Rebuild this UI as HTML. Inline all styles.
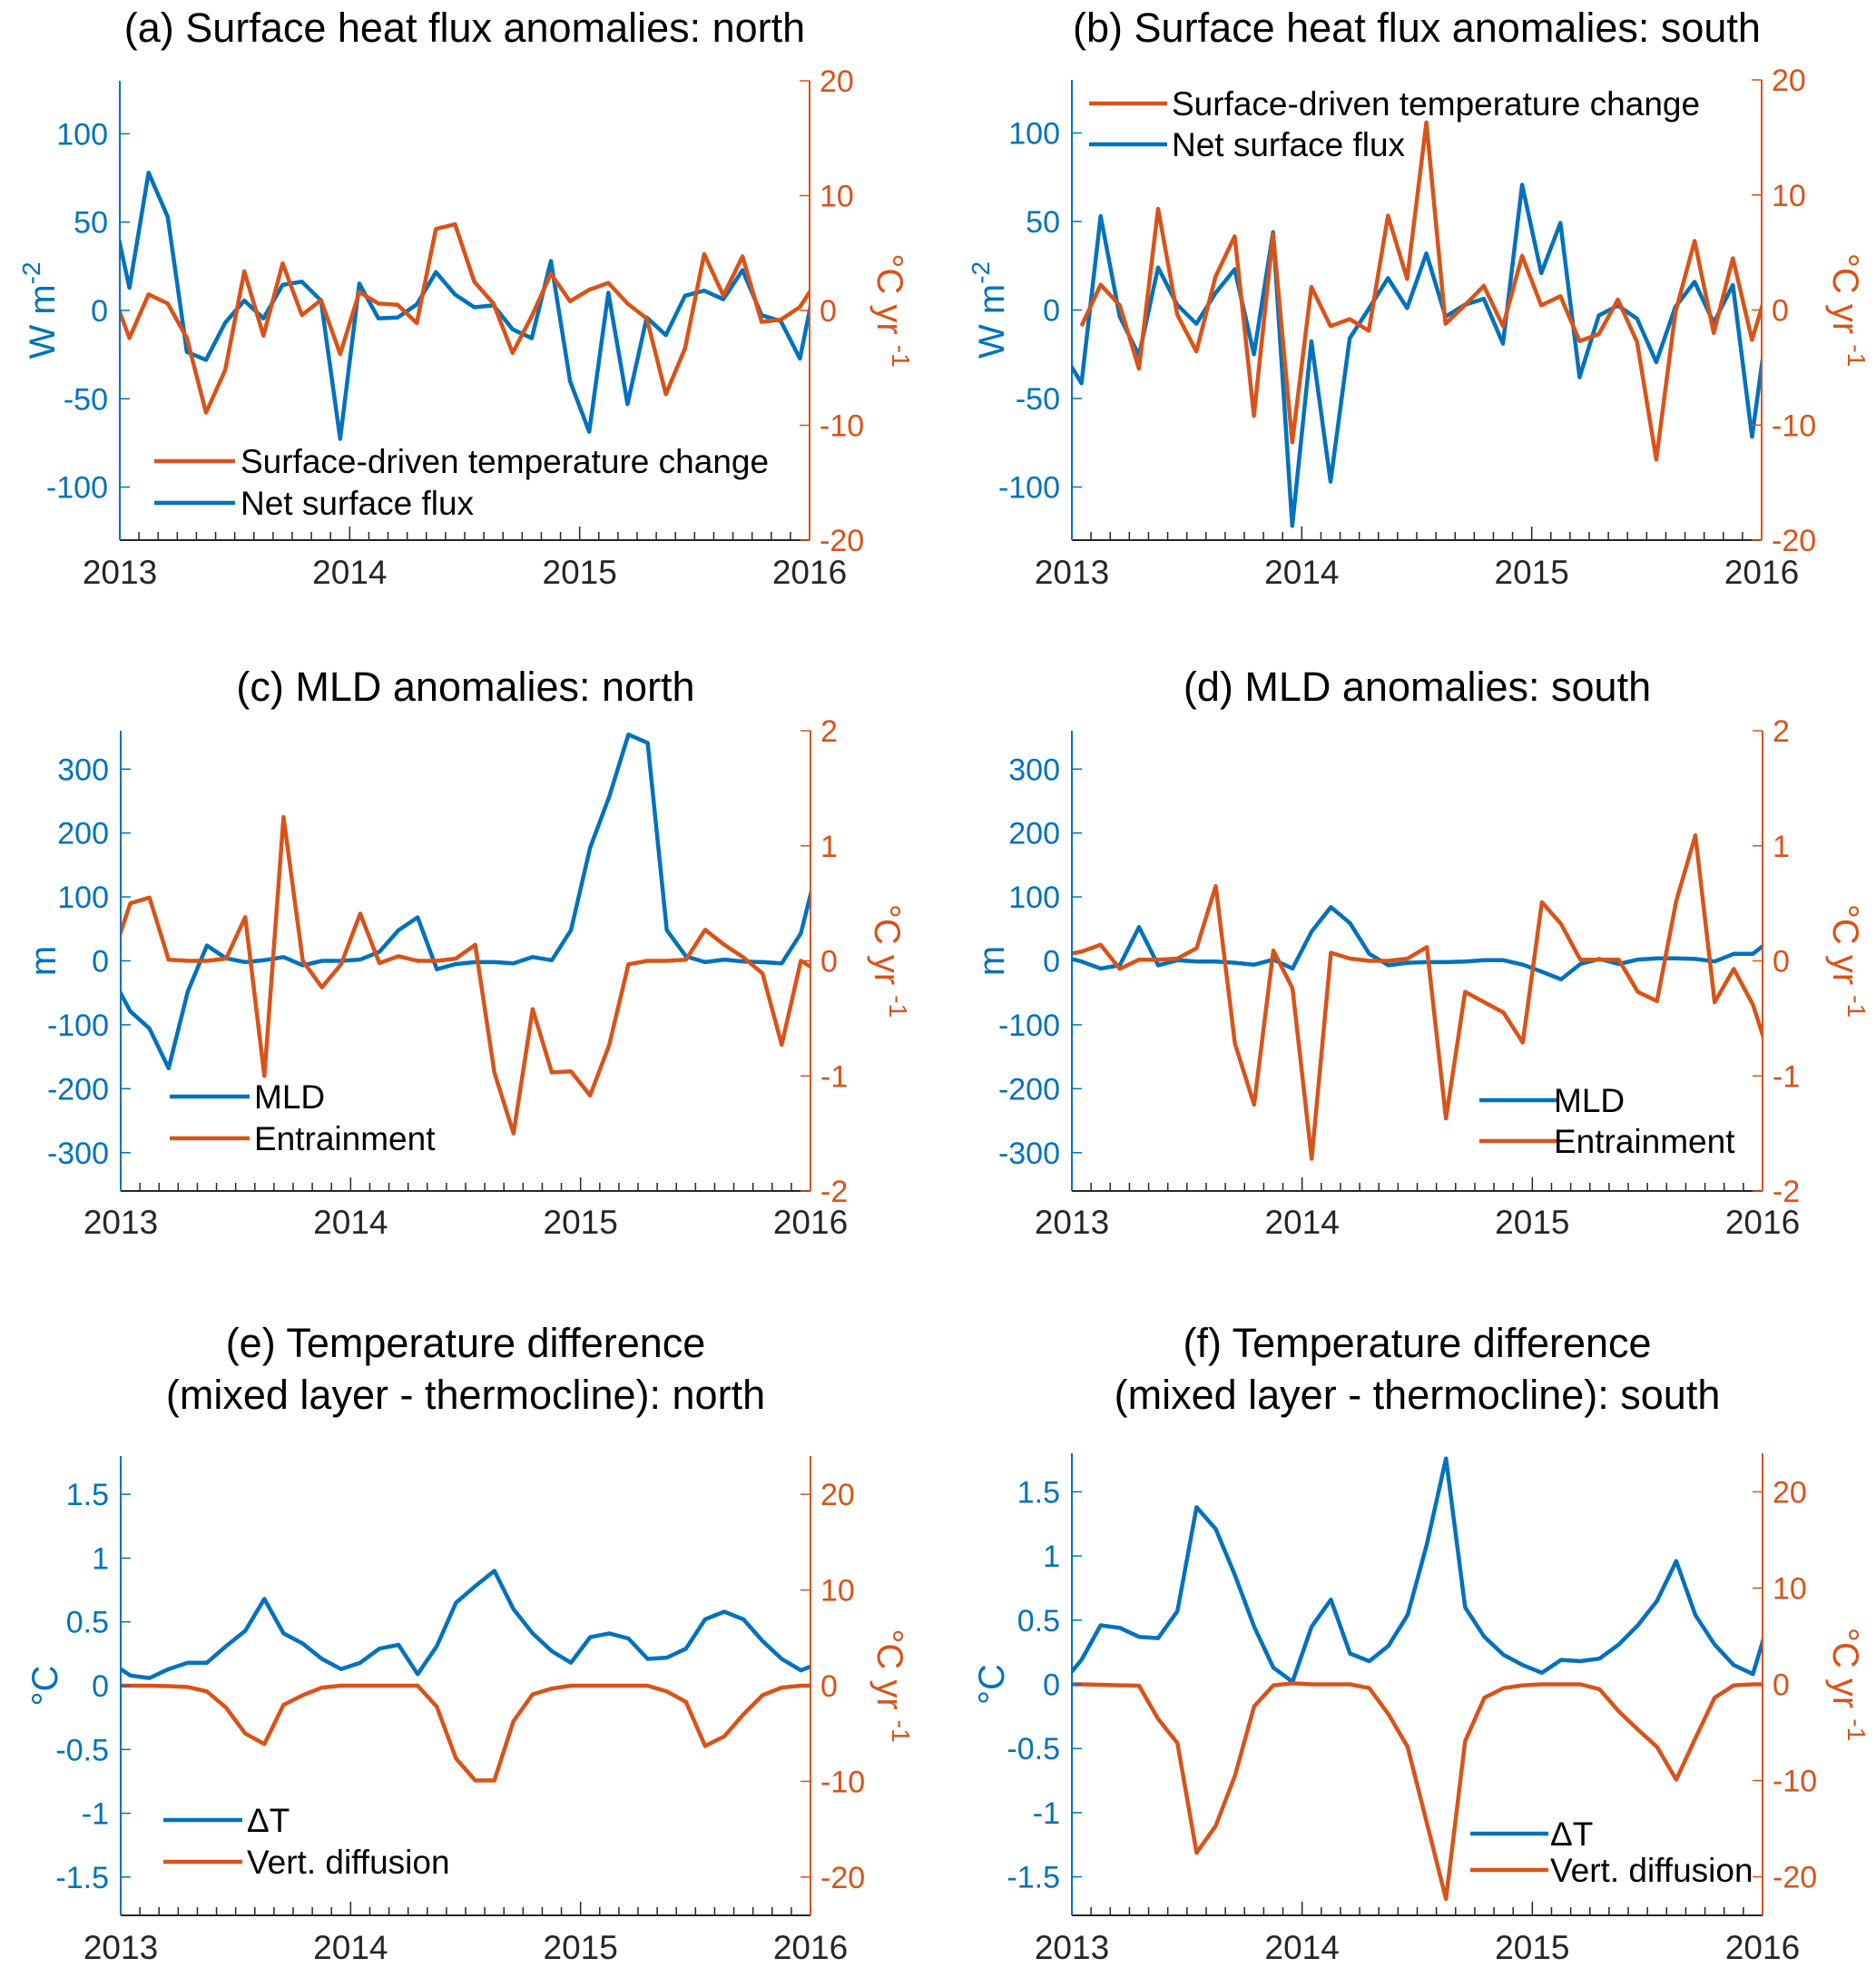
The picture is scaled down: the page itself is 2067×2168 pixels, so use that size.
<!DOCTYPE html>
<html><head><meta charset="utf-8">
<style>
html,body{margin:0;padding:0;background:#fff;}
svg{display:block;font-family:"Liberation Sans",Arial,sans-serif;}
</style></head>
<body>
<svg id="fig" width="2067" height="2168" viewBox="0 0 2067 2168" xmlns="http://www.w3.org/2000/svg"></svg>
<script>
// Month indices: -1 = Dec 2012 ... 36 = Jan 2016 (mid-month points)
const monthIdx = [-1,0,1,2,3,4,5,6,7,8,9,10,11,12,13,14,15,16,17,18,19,20,21,22,23,24,25,26,27,28,29,30,31,32,33,34,35,36];
const yearTicks = [2013,2014,2015,2016];

const aBlue   = [63,12.8,78,53,-23.5,-28,-7,5.6,-4.5,14.5,16.3,5.6,-72.7,15.2,-4.5,-4,3.4,21.7,9,1.8,2.9,-10.7,-15.7,28,-40,-68.7,10,-53,-4,-14,8.3,11.2,6.3,22.8,-2.7,-6,-27.3,27];
const aOrange = [2.1,-2.4,1.4,0.6,-2.4,-8.9,-5.2,3.4,-2.2,4.1,-0.4,0.9,-3.8,1.6,0.6,0.5,-1.1,7.1,7.5,2.5,0.6,-3.7,-0.5,3.2,0.8,1.8,2.4,0.6,-0.7,-7.3,-3.3,4.9,1.3,4.7,-1,-0.8,0.3,2.9];
const bBlue   = [-23.4,-41.4,53,-3.8,-25.7,24,2.9,-7.8,9.6,23,-25,44,-122,-17.7,-97,-16,0.7,18,1.1,32,-3.8,2.9,6.3,-19,70.7,20.8,49.2,-38,-3.1,2.5,-4.9,-29.5,1.8,15.9,-7.2,14.1,-71.6,8];
const bOrange = [null,-1.4,2.2,0.4,-5.1,8.8,-0.4,-3.6,2.9,6.4,-9.2,6.6,-11.5,2,-1.4,-0.8,-1.8,8.2,2.7,16.3,-1.2,0.4,2.1,-1.4,4.7,0.4,1.2,-2.7,-2.1,0.9,-2.8,-13,-0.2,6,-2,4.5,-2.6,3];
const cBlue   = [-23,-79,-106,-168,-48,24,4,-2,1,6,-7,0,0,2,14,48,68,-13,-5,-2,-2,-4,6,1,48,177,257,354,341,48,7,-2,2,-1,-2,-4,43,163];
const cOrange = [0,0.5,0.55,0.01,0,0,0.02,0.38,-1.0,1.25,0,-0.23,-0.03,0.41,-0.02,0.04,0,0,0.02,0.14,-0.97,-1.5,-0.42,-0.97,-0.96,-1.17,-0.73,-0.03,0,0,0.01,0.27,0.14,0.03,-0.11,-0.73,0,-0.1];
const dBlue   = [7,-1,-12,-7,53,-7,1,-1,-1,-3,-6,2,-12,46,84,59,11,-7,-3,-2,-2,-1,1,1,-6,-17,-29,-5,3,-5,2,4,4,3,-1,11,11,35];
const dOrange = [0.05,0.08,0.14,-0.07,0.01,0.01,0.02,0.11,0.65,-0.72,-1.25,0.09,-0.24,-1.72,0.07,0.02,0,0,0.02,0.12,-1.37,-0.27,-0.36,-0.45,-0.71,0.51,0.32,0.01,0.01,0.01,-0.27,-0.35,0.52,1.09,-0.36,-0.07,-0.38,-0.9];
const eBlue   = [0.18,0.08,0.06,0.13,0.18,0.18,0.31,0.43,0.68,0.41,0.33,0.21,0.13,0.18,0.29,0.32,0.09,0.31,0.65,0.78,0.9,0.6,0.41,0.27,0.18,0.38,0.41,0.37,0.21,0.22,0.29,0.52,0.58,0.52,0.35,0.21,0.12,0.18];
const eOrange = [0,0,0,-0.05,-0.14,-0.6,-2.3,-5.0,-6.1,-2.0,-1.0,-0.2,0,0,0,0,0,-2.2,-7.6,-9.9,-9.9,-3.7,-0.9,-0.3,0,0,0,0,0,-0.6,-1.7,-6.3,-5.3,-3.0,-1.0,-0.2,0,0];
const fBlue   = [0.01,0.19,0.46,0.44,0.37,0.36,0.57,1.38,1.21,0.85,0.45,0.13,0.02,0.45,0.66,0.24,0.18,0.3,0.54,1.09,1.76,0.6,0.37,0.23,0.15,0.09,0.19,0.18,0.2,0.31,0.46,0.65,0.96,0.54,0.31,0.15,0.08,0.58];
const fOrange = [0,0,-0.05,-0.1,-0.14,-3.6,-6.1,-17.5,-14.7,-9.5,-2.3,-0.1,0.1,0,0,0,-0.4,-3.1,-6.5,-14.4,-22.3,-5.9,-1.4,-0.4,-0.1,0,0,0,-0.5,-2.8,-4.7,-6.5,-9.9,-5.6,-1.4,-0.1,0,0];

const fluxTicksL = [-100,-50,0,50,100];
const fluxTicksR = [-20,-10,0,10,20];
const mldTicksL = [-300,-200,-100,0,100,200,300];
const mldTicksR = [-2,-1,0,1,2];
const dtTicksL = [-1.5,-1,-0.5,0,0.5,1,1.5];
const dtTickLabelsL = ["-1.5","-1","-0.5","0","0.5","1","1.5"];
const dtTicksR = [-20,-10,0,10,20];

const BLUE="#0072BD", ORANGE="#D95319", AX="#262626";
const NS="http://www.w3.org/2000/svg";
const svg=document.getElementById('fig');
function mk(tag,attrs,parent){const e=document.createElementNS(NS,tag);for(const k in attrs)e.setAttribute(k,attrs[k]);(parent||svg).appendChild(e);return e;}

const panels=[
 {id:'a',L:132,R:892,T:89,B:595,yl:[-130,130],yr:[-20,20],tl:fluxTicksL,tll:null,tr:fluxTicksR,blue:aBlue,orange:aOrange,
  title:["(a) Surface heat flux anomalies: north"],tY:[44],lab:"W m",labSup:"-2",labX:47,rX:980,yearY:643,
  leg:{x1:170,x2:259,tx:265,y:[508,554],items:[['orange','Surface-driven temperature change'],['blue','Net surface flux']]}},
 {id:'b',L:1181,R:1941,T:88,B:595,yl:[-130,130],yr:[-20,20],tl:fluxTicksL,tll:null,tr:fluxTicksR,blue:bBlue,orange:bOrange,
  title:["(b) Surface heat flux anomalies: south"],tY:[44],lab:"W m",labSup:"-2",labX:1093,rX:2033,yearY:643,
  leg:{x1:1200,x2:1286,tx:1291,y:[114,159],items:[['orange','Surface-driven temperature change'],['blue','Net surface flux']]}},
 {id:'c',L:133,R:893,T:805,B:1312,yl:[-360,360],yr:[-2,2],tl:mldTicksL,tll:null,tr:mldTicksR,blue:cBlue,orange:cOrange,
  title:["(c) MLD anomalies: north"],tY:[770],lab:"m",labSup:"",labX:48,rX:977,yearY:1359,
  leg:{x1:187,x2:275,tx:280,y:[1208,1254],items:[['blue','MLD'],['orange','Entrainment']]}},
 {id:'d',L:1181,R:1942,T:805,B:1312,yl:[-360,360],yr:[-2,2],tl:mldTicksL,tll:null,tr:mldTicksR,blue:dBlue,orange:dOrange,
  title:["(d) MLD anomalies: south"],tY:[770],lab:"m",labSup:"",labX:1093,rX:2033,yearY:1359,
  leg:{x1:1630,x2:1716,tx:1712,y:[1212,1257],items:[['blue','MLD'],['orange','Entrainment']]}},
 {id:'e',L:133,R:893,T:1604,B:2110,yl:[-1.8,1.8],yr:[-24,24],tl:dtTicksL,tll:dtTickLabelsL,tr:dtTicksR,blue:eBlue,orange:eOrange,
  title:["(e) Temperature difference","(mixed layer - thermocline): north"],tY:[1493,1550],lab:"°C",labSup:"",labX:50,rX:980,yearY:2158,
  leg:{x1:180,x2:267,tx:272,y:[2005,2051],items:[['blue','ΔT'],['orange','Vert. diffusion']]}},
 {id:'f',L:1181,R:1942,T:1601,B:2110,yl:[-1.8,1.8],yr:[-24,24],tl:dtTicksL,tll:dtTickLabelsL,tr:dtTicksR,blue:fBlue,orange:fOrange,
  title:["(f) Temperature difference","(mixed layer - thermocline): south"],tY:[1493,1550],lab:"°C",labSup:"",labX:1093,rX:2033,yearY:2158,
  leg:{x1:1620,x2:1706,tx:1708,y:[2020,2060],items:[['blue','ΔT'],['orange','Vert. diffusion']]}}
];

panels.forEach(p=>{
  const g=mk('g',{});
  
  
  const xS=t=>p.L+(t-2013)/3*(p.R-p.L);
  const xM=i=>xS(2013+(i+0.5)/12);
  const yL=v=>p.B-(v-p.yl[0])/(p.yl[1]-p.yl[0])*(p.B-p.T);
  const yR=v=>p.B-(v-p.yr[0])/(p.yr[1]-p.yr[0])*(p.B-p.T);
  const cx=(p.L+p.R)/2;
  p.title.forEach((t,k)=>{
    const tt=mk('text',{x:cx,y:p.tY[k]+2,'text-anchor':'middle','font-size':45,fill:'#000'},g);
    
    
    tt.textContent=t;
  });
  const cp=mk('clipPath',{id:'clip'+p.id},g);
  mk('rect',{x:p.L,y:p.T,width:p.R-p.L,height:p.B-p.T},cp);
  const mkLine=(arr,ys,col,nm)=>{
    let d='';let started=false;
    arr.forEach((v,k)=>{if(v===null)return;const X=xM(monthIdx[k]),Y=ys(v);d+=(started?'L':'M')+X.toFixed(1)+','+Y.toFixed(1);started=true;});
    const pl=mk('path',{d:d,fill:'none',stroke:col,'stroke-width':4.5,'stroke-linejoin':'round','clip-path':'url(#clip'+p.id+')'},g);
    
    
  };
  mkLine(p.blue,yL,BLUE,'panel-'+p.id+'-blue-series');
  mkLine(p.orange,yR,ORANGE,'panel-'+p.id+'-orange-series');
  const ax=mk('line',{x1:p.L,y1:p.B,x2:p.R,y2:p.B,stroke:AX,'stroke-width':2},g);
  
  
  const la=mk('line',{x1:p.L,y1:p.T,x2:p.L,y2:p.B,stroke:BLUE,'stroke-width':2},g);
  
  
  const ra=mk('line',{x1:p.R,y1:p.T,x2:p.R,y2:p.B,stroke:ORANGE,'stroke-width':2},g);
  
  
  for(let m=1;m<36;m++){
    const X=xS(2013+m/12);const len=(m%12===0)?15:9;
    mk('line',{x1:X,y1:p.B,x2:X,y2:p.B-len,stroke:AX,'stroke-width':1.5},g);
  }
  yearTicks.forEach(yr=>{
    const t=mk('text',{x:xS(yr),y:p.yearY,'text-anchor':'middle','font-size':37,fill:AX},g);
    
    
    t.textContent=yr;
  });
  p.tl.forEach((v,k)=>{
    const Y=yL(v);
    mk('line',{x1:p.L,y1:Y,x2:p.L+11,y2:Y,stroke:BLUE,'stroke-width':1.5},g);
    const t=mk('text',{x:p.L-13,y:Y+12,'text-anchor':'end','font-size':34,fill:BLUE},g);
    
    
    t.textContent=p.tll?p.tll[k]:v;
  });
  p.tr.forEach(v=>{
    const Y=yR(v);
    mk('line',{x1:p.R,y1:Y,x2:p.R-11,y2:Y,stroke:ORANGE,'stroke-width':1.5},g);
    const t=mk('text',{x:p.R+11,y:Y+12,'text-anchor':'start','font-size':34,fill:ORANGE},g);
    
    
    t.textContent=v;
  });
  const cy=(p.T+p.B)/2;
  const lt=mk('text',{x:0,y:0,'text-anchor':'middle','font-size':40,fill:BLUE,transform:`translate(${p.labX+13},${cy}) rotate(-90)`},g);
  
  
  lt.appendChild(document.createTextNode(p.lab));
  if(p.labSup){const s=mk('tspan',{dy:-16,'font-size':28},lt);s.textContent=p.labSup;}
  const rt=mk('text',{x:0,y:0,'text-anchor':'middle','font-size':40,fill:ORANGE,transform:`translate(${p.rX-13},${cy}) rotate(90)`},g);
  
  
  rt.appendChild(document.createTextNode('°C yr '));
  const s2=mk('tspan',{dy:-16,'font-size':28},rt);s2.textContent='-1';
  const lg=mk('g',{},g);
  
  
  p.leg.items.forEach((it,k)=>{
    const Y=p.leg.y[k];const col=it[0]==='blue'?BLUE:ORANGE;
    mk('line',{x1:p.leg.x1,y1:Y,x2:p.leg.x2,y2:Y,stroke:col,'stroke-width':4.5},lg);
    const t=mk('text',{x:p.leg.tx,y:Y+13,'font-size':37,fill:'#000'},lg);
    
    
    t.textContent=it[1];
  });
});
</script>
</body></html>
